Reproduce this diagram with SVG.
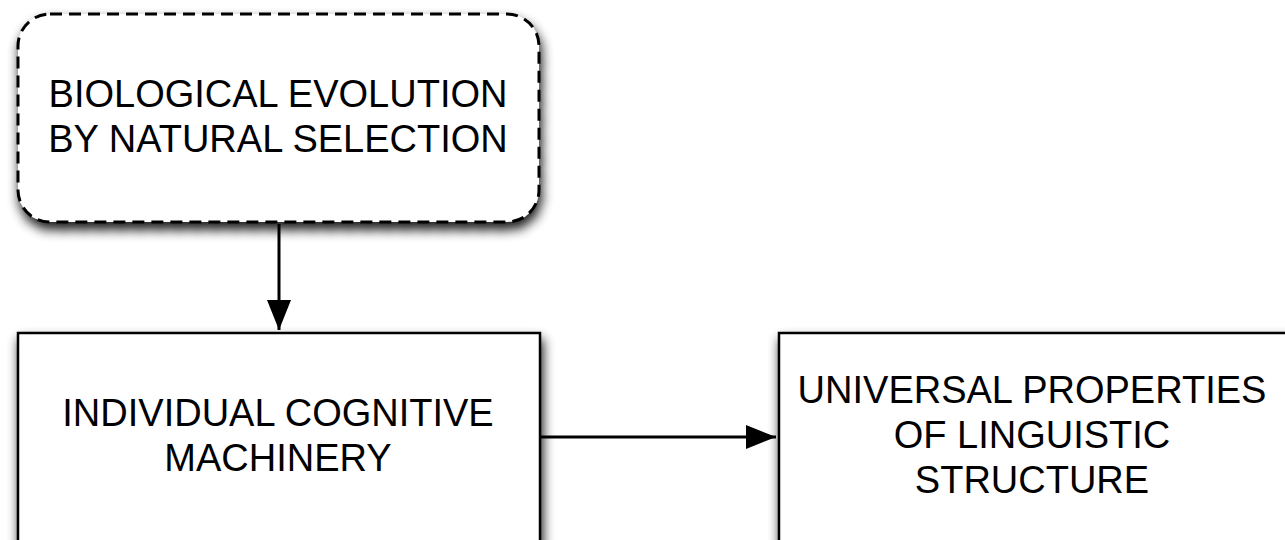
<svg xmlns="http://www.w3.org/2000/svg" width="1285" height="540" viewBox="0 0 1285 540">
  <style>
    .box { fill: #ffffff; stroke: #000000; stroke-width: 2.5; }
    .dashed { stroke-width: 3; stroke-dasharray: 12 7; }
    .label { font-family: "Liberation Sans", Arial, Helvetica, sans-serif; font-size: 38px; fill: #000000; text-anchor: middle; }
    .edge { stroke: #000000; stroke-width: 3; fill: none; }
  </style>
  <defs>
    <filter id="shadow" x="-10%" y="-20%" width="120%" height="150%">
      <feGaussianBlur in="SourceAlpha" stdDeviation="6"/>
      <feOffset dx="2" dy="7" result="blur"/>
      <feComponentTransfer>
        <feFuncA type="linear" slope="0.9"/>
      </feComponentTransfer>
      <feMerge>
        <feMergeNode/>
        <feMergeNode in="SourceGraphic"/>
      </feMerge>
    </filter>
    <marker id="arrow" markerUnits="userSpaceOnUse" markerWidth="32" markerHeight="26" refX="30" refY="12" orient="auto">
      <path d="M0,0 L30,12 L0,24 Z" fill="#000000"/>
    </marker>
  </defs>

  <!-- nodes -->
  <g id="evolution">
    <rect class="box dashed" x="18" y="14" width="521" height="208" rx="32" ry="32" filter="url(#shadow)"/>
    <text class="label" x="278" y="107">BIOLOGICAL EVOLUTION</text>
    <text class="label" x="278" y="152">BY NATURAL SELECTION</text>
  </g>

  <g id="cognition">
    <rect class="box" x="18" y="333" width="522" height="240" filter="url(#shadow)"/>
    <text class="label" x="278" y="426">INDIVIDUAL COGNITIVE</text>
    <text class="label" x="278" y="471">MACHINERY</text>
  </g>

  <g id="universals">
    <rect class="box" x="779" y="333" width="522" height="240" filter="url(#shadow)"/>
    <text class="label" x="1032" y="403">UNIVERSAL PROPERTIES</text>
    <text class="label" x="1032" y="448">OF LINGUISTIC</text>
    <text class="label" x="1032" y="493">STRUCTURE</text>
  </g>

  <!-- connectors -->
  <g id="connectors">
    <line class="edge" x1="279" y1="224" x2="279" y2="330" marker-end="url(#arrow)"/>
    <line class="edge" x1="541" y1="437" x2="776" y2="437" marker-end="url(#arrow)"/>
  </g>
</svg>
